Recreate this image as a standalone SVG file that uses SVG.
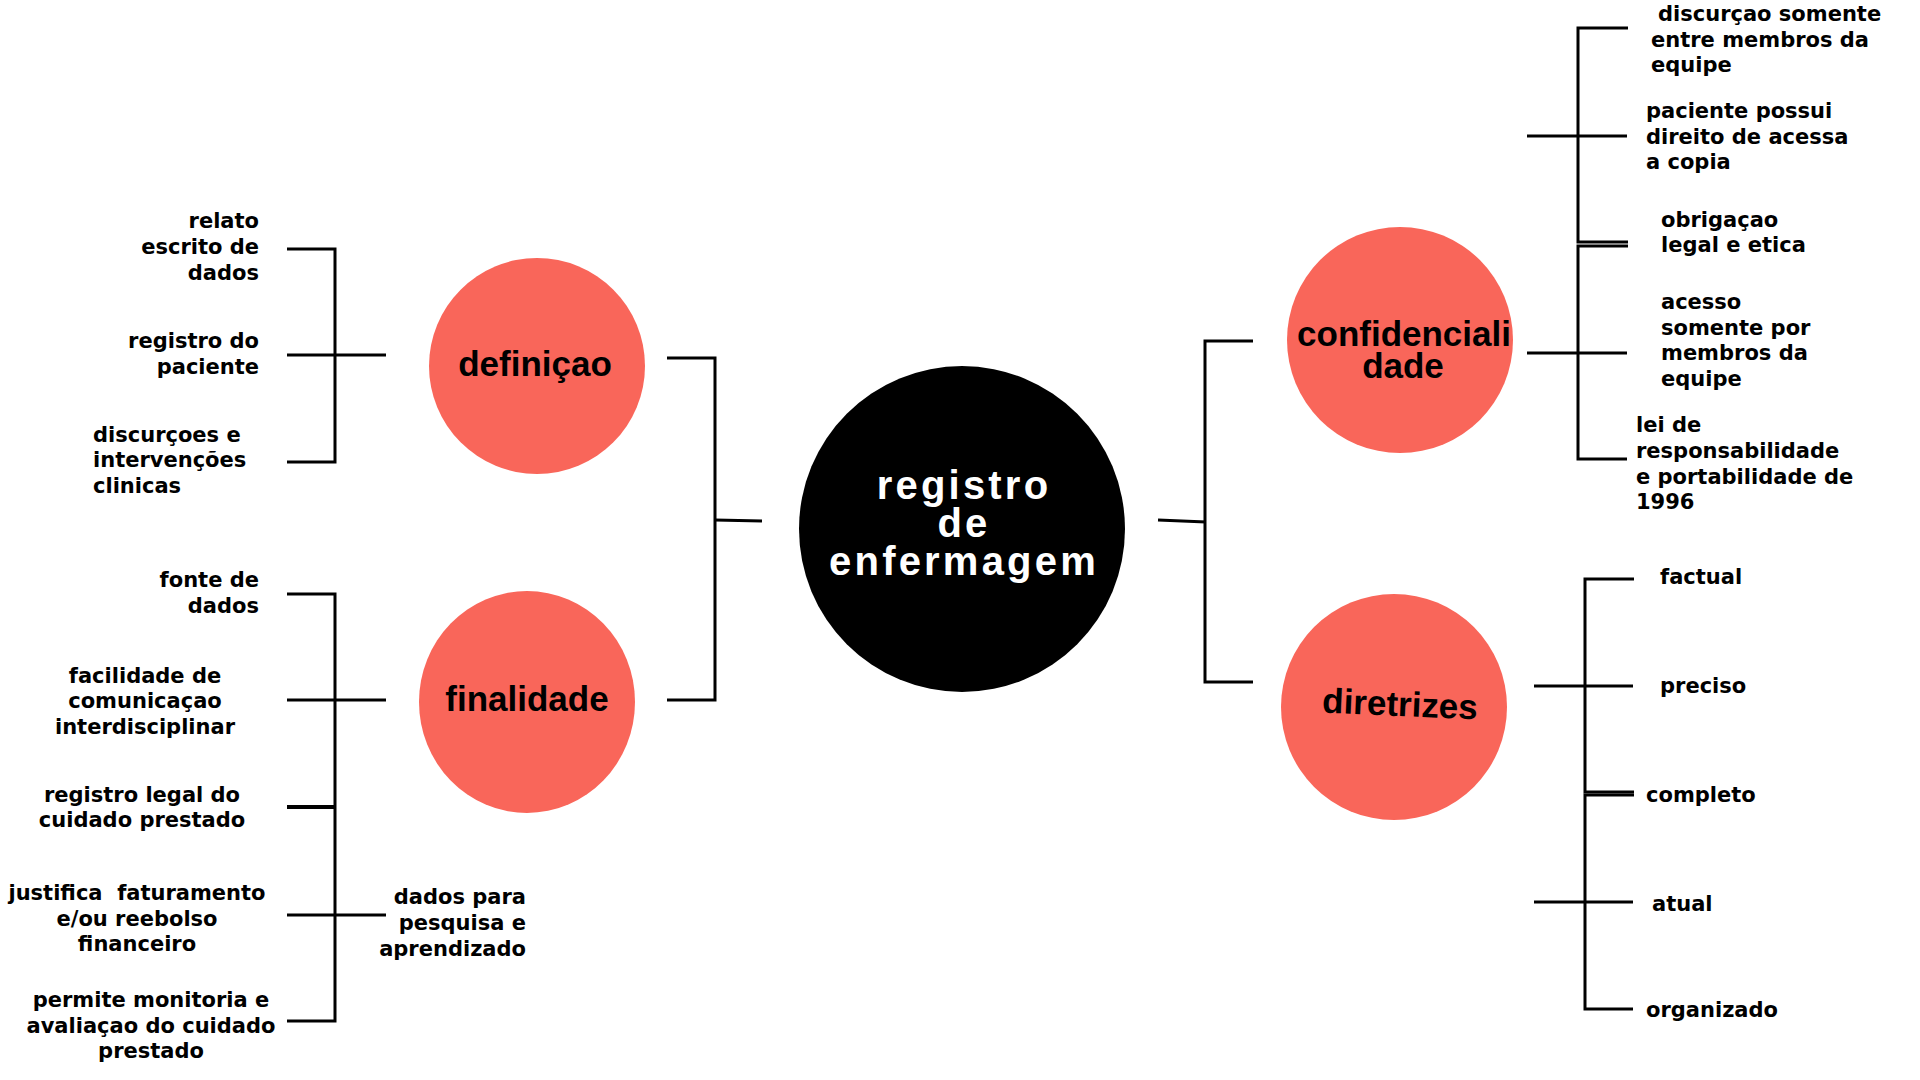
<svg xmlns="http://www.w3.org/2000/svg" width="1920" height="1080" viewBox="0 0 1920 1080">
<style>
.bg{fill:#ffffff}
.topic{fill:#F9665A}
.core{fill:#000000}
.conn{fill:none;stroke:#000;stroke-width:3;stroke-linecap:butt;stroke-linejoin:miter}
.thick{stroke-width:4}
.lbl{font-family:"DejaVu Sans","Liberation Sans",sans-serif;font-weight:bold;font-size:21px;fill:#000}
.end{text-anchor:end}
.mid{text-anchor:middle}
.ttl{font-family:"Liberation Sans",Arial,sans-serif;font-weight:bold;font-size:35px;fill:#000;text-anchor:middle}
.core-t{font-family:"Liberation Sans",Arial,sans-serif;font-weight:bold;font-size:40px;letter-spacing:3.2px;fill:#fff;text-anchor:middle}
</style>
<rect class="bg" x="0" y="0" width="1920" height="1080"/>

<g id="connectors">
  <path class="conn" d="M667,358 H715 V700 H667"/>
  <path class="conn" d="M715,520 L762,521"/>
  <path class="conn" d="M1158,520 L1206,522"/>
  <path class="conn" d="M1253,341 H1205 V682 H1253"/>
  <path class="conn" d="M287,249 H335 V462 H287"/>
  <path class="conn" d="M287,355 H386"/>
  <path class="conn" d="M287,594 H335 V1021 H287"/>
  <path class="conn" d="M287,700 H386"/>
  <path class="conn thick" d="M287,807 H335"/>
  <path class="conn" d="M287,915 H386"/>
  <path class="conn" d="M1628,28 H1578 V242 H1628"/>
  <path class="conn" d="M1527,136 H1627"/>
  <path class="conn" d="M1628,246 H1578 V459 H1627"/>
  <path class="conn" d="M1527,353 H1627"/>
  <path class="conn" d="M1634,579 H1585 V792 H1634"/>
  <path class="conn" d="M1534,686 H1633"/>
  <path class="conn" d="M1634,795 H1585 V1009 H1633"/>
  <path class="conn" d="M1534,902 H1633"/>
</g>

<g id="registro-de-enfermagem">
  <circle class="core" cx="962" cy="529" r="163"/>
  <text class="core-t"><tspan x="964" y="499">registro</tspan><tspan x="964" y="537">de</tspan><tspan x="964" y="575">enfermagem</tspan></text>
</g>

<g id="definicao">
  <circle class="topic" cx="537" cy="366" r="108"/>
  <text class="ttl" x="535" y="376">definiçao</text>
</g>
<g id="finalidade">
  <ellipse class="topic" cx="527" cy="702" rx="108" ry="111"/>
  <text class="ttl" x="527" y="711">finalidade</text>
</g>
<g id="confidencialidade">
  <circle class="topic" cx="1400" cy="340" r="113"/>
  <text class="ttl"><tspan x="1404" y="346">confidenciali</tspan><tspan x="1403" y="378">dade</tspan></text>
</g>
<g id="diretrizes">
  <circle class="topic" cx="1394" cy="707" r="113"/>
  <text class="ttl" x="1400" y="716" transform="rotate(2.5 1400 705)">diretrizes</text>
</g>

<g id="def-relato"><text class="lbl end"><tspan x="259" y="228">relato</tspan><tspan x="259" y="254">escrito de</tspan><tspan x="259" y="280">dados</tspan></text></g>
<g id="def-registro"><text class="lbl end"><tspan x="259" y="348">registro do</tspan><tspan x="259" y="374">paciente</tspan></text></g>
<g id="def-discurcoes"><text class="lbl"><tspan x="93" y="442">discurçoes e</tspan><tspan x="93" y="467">intervenções</tspan><tspan x="93" y="493">clinicas</tspan></text></g>

<g id="fin-fonte"><text class="lbl end"><tspan x="259" y="587">fonte de</tspan><tspan x="259" y="613">dados</tspan></text></g>
<g id="fin-facilidade"><text class="lbl mid"><tspan x="145" y="683">facilidade de</tspan><tspan x="145" y="708">comunicaçao</tspan><tspan x="145" y="734">interdisciplinar</tspan></text></g>
<g id="fin-legal"><text class="lbl mid"><tspan x="142" y="802">registro legal do</tspan><tspan x="142" y="827">cuidado prestado</tspan></text></g>
<g id="fin-justifica"><text class="lbl mid" style="white-space:pre"><tspan x="137" y="900">justifica  faturamento</tspan><tspan x="137" y="926">e/ou reebolso</tspan><tspan x="137" y="951">financeiro</tspan></text></g>
<g id="fin-monitoria"><text class="lbl mid"><tspan x="151" y="1007">permite monitoria e</tspan><tspan x="151" y="1033">avaliaçao do cuidado</tspan><tspan x="151" y="1058">prestado</tspan></text></g>
<g id="fin-pesquisa"><text class="lbl end"><tspan x="526" y="904">dados para</tspan><tspan x="526" y="930">pesquisa e</tspan><tspan x="526" y="956">aprendizado</tspan></text></g>

<g id="conf-discurcao"><text class="lbl"><tspan x="1658" y="21">discurçao somente</tspan><tspan x="1651" y="47">entre membros da</tspan><tspan x="1651" y="72">equipe</tspan></text></g>
<g id="conf-paciente"><text class="lbl"><tspan x="1646" y="118">paciente possui</tspan><tspan x="1646" y="144">direito de acessa</tspan><tspan x="1646" y="169">a copia</tspan></text></g>
<g id="conf-obrigacao"><text class="lbl"><tspan x="1661" y="227">obrigaçao</tspan><tspan x="1661" y="252">legal e etica</tspan></text></g>
<g id="conf-acesso"><text class="lbl"><tspan x="1661" y="309">acesso</tspan><tspan x="1661" y="335">somente por</tspan><tspan x="1661" y="360">membros da</tspan><tspan x="1661" y="386">equipe</tspan></text></g>
<g id="conf-lei"><text class="lbl"><tspan x="1636" y="432">lei de</tspan><tspan x="1636" y="458">responsabilidade</tspan><tspan x="1636" y="484">e portabilidade de</tspan><tspan x="1636" y="509">1996</tspan></text></g>

<g id="dir-factual"><text class="lbl" x="1660" y="584">factual</text></g>
<g id="dir-preciso"><text class="lbl" x="1660" y="693">preciso</text></g>
<g id="dir-completo"><text class="lbl" x="1646" y="802">completo</text></g>
<g id="dir-atual"><text class="lbl" x="1652" y="911">atual</text></g>
<g id="dir-organizado"><text class="lbl" x="1646" y="1017">organizado</text></g>
</svg>
